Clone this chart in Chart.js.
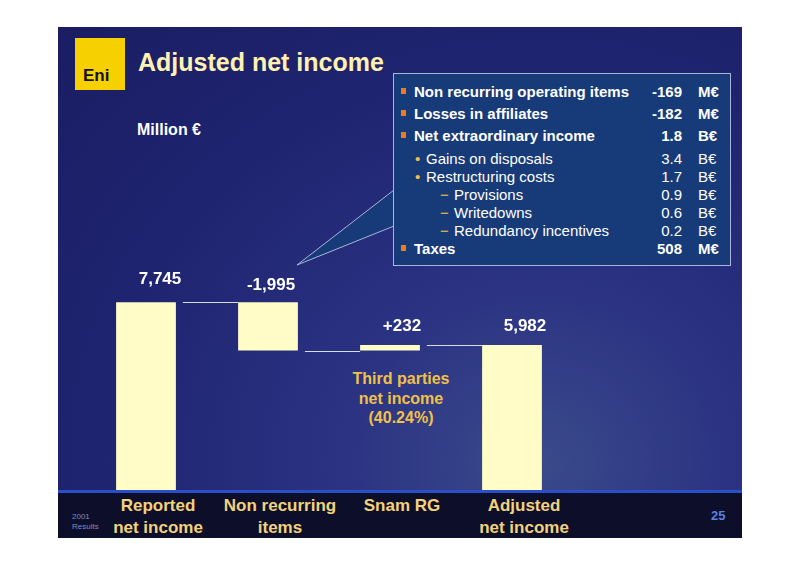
<!DOCTYPE html>
<html><head><meta charset="utf-8">
<script src="https://cdn.jsdelivr.net/npm/chart.js@4.4.1/dist/chart.umd.min.js"></script>
<style>
body{margin:0;background:#fff;font-family:"Liberation Sans",Arial,sans-serif;}
#wrap{position:relative;width:800px;height:565px;overflow:hidden;}
#slide{position:absolute;left:58px;top:27px;width:684px;height:511px;
 background:radial-gradient(ellipse at 70% 85%,#3a4a8a 0%,#2a3282 30%,#1f2470 65%,#1a1d62 100%);}
#band{position:absolute;left:58px;top:490px;width:684px;height:48px;background:#0d0f2a;border-top:3px solid #2a50c8;box-sizing:border-box;}
canvas{position:absolute;left:0;top:0;}
.t{position:absolute;font-weight:bold;white-space:nowrap;}
#box{position:absolute;left:393px;top:73px;width:338px;height:193px;background:#173a78;border:1px solid #aab4d8;box-sizing:border-box;}
.row{position:absolute;left:0;width:338px;color:#fff;font-size:15px;height:18px;}
.row span{position:absolute;}
</style></head><body>
<div id="wrap">
<div id="slide"></div>
<div id="band"></div>
<svg style="position:absolute;left:0;top:0" width="800" height="565">
 <polygon points="394,190 297,265 394,226" fill="#173a78" stroke="#aab4d8" stroke-width="1"/>
</svg>
<div id="box"></div>
<div style="position:absolute;left:75px;top:38px;width:50px;height:52px;background:#f7d000;"></div>
<div class="t" style="left:83px;top:66px;font-size:17px;color:#111;">Eni</div>
<div class="t" style="left:138px;top:48px;font-size:25px;color:#fff2b0;">Adjusted net income</div>
<div class="t" style="left:137px;top:121px;font-size:16px;color:#fff;">Million €</div>
<div class="t" style="left:72px;top:512px;font-size:8px;color:#7f8ac0;font-weight:normal;line-height:10px;">2001<br>Results</div>
<div class="t" style="left:711px;top:508px;font-size:13px;color:#5a80e0;">25</div>
<div class="t" style="left:341px;top:369px;width:120px;text-align:center;font-size:16px;color:#f2c04a;line-height:19.5px;">Third parties<br>net income<br>(40.24%)</div>
<div id="labels"></div>
<canvas id="c" width="800" height="565"></canvas>
</div>
<script>
const categories=[["Reported","net income"],["Non recurring","items"],["Snam RG"],["Adjusted","net income"]];
const barStart=[0,7745,5750,0];
const barEnd=[7745,5750,5982,5982];
const valueLabels=["7,745","-1,995","+232","5,982"];
const boxRows=[
 ["b","Non recurring operating items","-169","M€"],
 ["b","Losses in affiliates","-182","M€"],
 ["b","Net extraordinary income","1.8","B€"],
 ["s","Gains on disposals","3.4","B€"],
 ["s","Restructuring costs","1.7","B€"],
 ["d","Provisions","0.9","B€"],
 ["d","Writedowns","0.6","B€"],
 ["d","Redundancy incentives","0.2","B€"],
 ["b","Taxes","508","M€"]];
const box=document.getElementById('box');
boxRows.forEach((r,i)=>{
 const d=document.createElement('div');d.className='row';
 const tops=[9,31,53,76,94,112,130,148,166];
 d.style.top=tops[i]+'px';
 const bold=r[0]=='b';d.style.fontWeight=bold?'bold':'normal';
 const ind=r[0]=='b'?20:r[0]=='s'?32:60;
 const mk=r[0]=='b'?'<span style="left:7px;top:5px;width:5px;height:6px;background:#f07a20"></span>':
  r[0]=='s'?'<span style="left:21px;color:#f2c04a">•</span>':'<span style="left:46px;color:#f2c04a">−</span>';
 d.innerHTML=mk+`<span style="left:${ind}px">${r[1]}</span><span style="right:50px">${r[2]}</span><span style="left:304px">${r[3]}</span>`;
 box.appendChild(d);
});
const deco={id:'deco',afterDatasetsDraw(ch){
 const ctx=ch.ctx,x=ch.scales.x,y=ch.scales.y,meta=ch.getDatasetMeta(0);
 ctx.save();ctx.strokeStyle='#d8dcf0';ctx.lineWidth=1;
 for(let i=0;i<3;i++){const a=meta.data[i],b=meta.data[i+1];const yy=Math.round(y.getPixelForValue(barEnd[i]))+0.5;
  ctx.beginPath();ctx.moveTo(a.x+a.width/2+7,yy);ctx.lineTo(b.x-b.width/2,yy);ctx.stroke();}
 ctx.fillStyle='#fff';ctx.font='bold 17px "Liberation Sans",Arial';ctx.textAlign='center';ctx.textBaseline='bottom';
 const off=[14,3,12,13],dy=[-14,-8,-10,-10];
 meta.data.forEach((b,i)=>{ctx.fillText(valueLabels[i],b.x+off[i],Math.min(b.y,b.base)+dy[i]);});
 ctx.restore();
 const L=document.getElementById('labels');L.innerHTML='';
 meta.data.forEach((b,i)=>{const d=document.createElement('div');d.className='t';
  d.style.cssText=`left:${b.x+12-80}px;top:495px;width:160px;text-align:center;font-size:17px;color:#f2d27a;line-height:22px;`;
  d.innerHTML=categories[i].join('<br>');L.appendChild(d);});
}};
new Chart(document.getElementById('c'),{type:'bar',
 data:{labels:categories.map(c=>c.join(' ')),datasets:[{data:barStart.map((s,i)=>[s,barEnd[i]]),backgroundColor:'#fffcc8',borderWidth:0,barPercentage:0.49,categoryPercentage:1}]},
 options:{responsive:false,animation:false,layout:{padding:{left:85,right:227,top:102,bottom:75}},
  plugins:{legend:{display:false},tooltip:{enabled:false}},
  scales:{x:{display:false},y:{display:false,min:0,max:16000}}},
 plugins:[deco]});
</script></body></html>
